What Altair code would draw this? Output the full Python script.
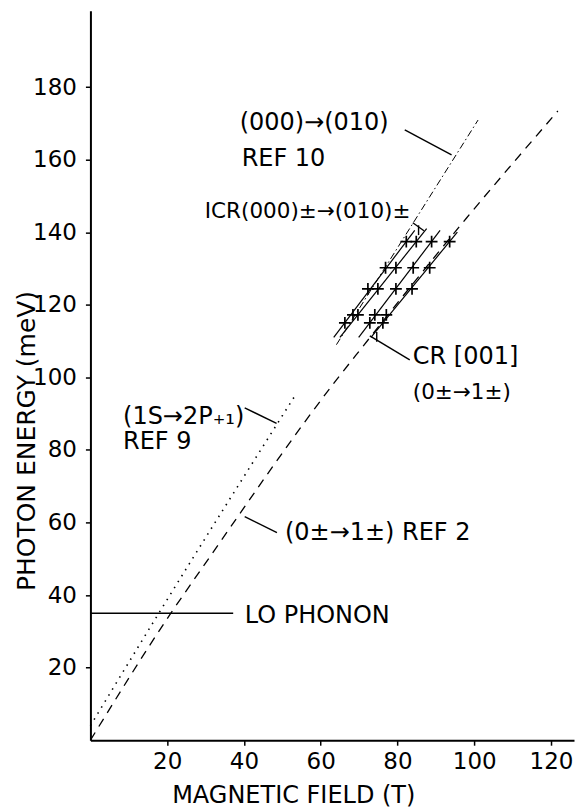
import altair as alt
import pandas as pd

FONT = "DejaVu Sans"
X_MAX = 126
Y_MAX = 201

x_ticks = [20, 40, 60, 80, 100, 120]
y_ticks = [20, 40, 60, 80, 100, 120, 140, 160, 180]

# (0±→1±) REF 2  (dashed)
ref2_B = [0, 20.7, 29.4, 64.1, 70.6, 98.0, 121.8]
ref2_E = [0, 34.6, 47.9, 99.3, 108.0, 143.9, 173.4]

# (1S→2P+1) REF 9  (dotted)
ref9_B = [0, 17.7, 53.7]
ref9_E = [4.0, 34.8, 95.6]

# (000)→(010) REF 10  (dash-dot)
ref10_B = [64.1, 101.0]
ref10_E = [109.0, 170.9]

# LO phonon
lo_B = [0, 37.2]
lo_E = [35, 35]

# CR [001] measured points (four series)
cr_series = ["A"] * 5 + ["B"] * 4 + ["C"] * 5 + ["D"] * 5
cr_B = [66.3, 68.4, 72.3, 76.9, 82.3,
        69.7, 74.9, 79.6, 84.9,
        72.8, 74.1, 79.6, 84.1, 88.9,
        76.2, 77.1, 83.8, 88.4, 93.6]
cr_E = [115.0, 117.2, 124.4, 130.2, 137.4,
        117.2, 124.4, 130.2, 137.4,
        115.0, 117.2, 124.4, 130.2, 137.4,
        115.0, 117.2, 124.4, 130.2, 137.4]

# lines drawn through the CR points
fit_B0 = [63.4, 65.0, 69.9, 73.1]
fit_E0 = [111.0, 111.0, 111.0, 111.0]
fit_B1 = [84.5, 87.6, 91.1, 95.6]
fit_E1 = [140.5, 141.0, 140.5, 140.0]

# annotation texts (larger lettering)
ann_text = ["(000)→(010)", "REF 10", "CR [001]",
            "(1S→2P₊₁)", "REF 9", "(0±→1±) REF 2", "LO PHONON"]
ann_B = [38.9, 39.4, 84.0, 8.5, 8.5, 50.7, 40.2]
ann_E = [170.1, 160.2, 105.5, 89.1, 82.1, 57.2, 34.3]

# annotation texts (smaller lettering)
ann2_text = ["ICR(000)±→(010)±", "(0±→1±)"]
ann2_B = [29.8, 84.0]
ann2_E = [145.5, 95.7]

# leader lines
lead_B0 = [81.9, 84.0, 83.2, 40.2, 40.2, 85.5, 74.6]
lead_E0 = [168.2, 142.6, 104.8, 91.6, 61.6, 141.9, 112.5]
lead_B1 = [94.1, 86.9, 72.8, 48.5, 48.6, 85.5, 74.6]
lead_E1 = [161.3, 140.4, 111.4, 87.3, 57.2, 139.2, 109.8]

XSCALE = alt.Scale(domain=[0, X_MAX], nice=False, zero=False)
YSCALE = alt.Scale(domain=[0, Y_MAX], nice=False, zero=False)

XAXIS = alt.Axis(values=x_ticks, title="MAGNETIC FIELD (T)", grid=False,
                 domainColor="black", domainWidth=2, tickColor="black", tickWidth=1.5,
                 tickSize=5, labelFont=FONT, labelFontSize=23, labelColor="black",
                 labelPadding=5, titleFont=FONT, titleFontSize=24, titleFontWeight="normal",
                 titleColor="black", titleX=203, titleY=62, titleAlign="center",
                 titleBaseline="alphabetic")
YAXIS = alt.Axis(values=y_ticks, title="PHOTON ENERGY (meV)", grid=False,
                 domainColor="black", domainWidth=2, tickColor="black", tickWidth=1.5,
                 tickSize=5, labelFont=FONT, labelFontSize=23, labelColor="black",
                 labelPadding=9, titleFont=FONT, titleFontSize=25, titleFontWeight="normal",
                 titleColor="black", titleX=-64, titleY=430, titleAngle=270,
                 titleAlign="center", titleBaseline="middle")


def X(f):
    return alt.X(f, type="quantitative", scale=XSCALE, axis=XAXIS)


def Y(f):
    return alt.Y(f, type="quantitative", scale=YSCALE, axis=YAXIS)


def curve(bs, es, dash, width=1.3):
    df = pd.DataFrame({"B": bs, "E": es, "o": list(range(len(bs)))})
    return alt.Chart(df).mark_line(color="black", strokeWidth=width, strokeDash=dash,
                                   interpolate="monotone").encode(
        x=X("B"), y=Y("E"), order="o:Q")


ref2 = curve(ref2_B, ref2_E, [9, 7])
ref9 = curve(ref9_B, ref9_E, [1.5, 5.5], 1.6)
ref10 = curve(ref10_B, ref10_E, [7, 3, 1.5, 3], 1.0)
lo = alt.Chart(pd.DataFrame({"B": lo_B, "E": lo_E})).mark_line(
    color="black", strokeWidth=1.4).encode(x=X("B"), y=Y("E"))

fit_df = pd.DataFrame({"B0": fit_B0, "E0": fit_E0, "B1": fit_B1, "E1": fit_E1})
fits = alt.Chart(fit_df).mark_rule(color="black", strokeWidth=1.2).encode(
    x=X("B0"), y=Y("E0"), x2="B1", y2="E1")

lead_df = pd.DataFrame({"B0": lead_B0, "E0": lead_E0, "B1": lead_B1, "E1": lead_E1})
leads = alt.Chart(lead_df).mark_rule(color="black", strokeWidth=1.4).encode(
    x=X("B0"), y=Y("E0"), x2="B1", y2="E1")

cr_df = pd.DataFrame({"B": cr_B, "E": cr_E, "s": cr_series})
crosses = alt.Chart(cr_df).mark_point(
    shape="M-1,0L1,0M0,-1L0,1", filled=False, color="black", strokeWidth=1.7,
    size=140, opacity=1).encode(x=X("B"), y=Y("E"))

ann_df = pd.DataFrame({"t": ann_text, "B": ann_B, "E": ann_E})
labels = alt.Chart(ann_df).mark_text(
    align="left", baseline="middle", font=FONT, fontSize=24, color="black").encode(
    x=X("B"), y=Y("E"), text="t:N")

ann2_df = pd.DataFrame({"t": ann2_text, "B": ann2_B, "E": ann2_E})
labels2 = alt.Chart(ann2_df).mark_text(
    align="left", baseline="middle", font=FONT, fontSize=21.5, color="black").encode(
    x=X("B"), y=Y("E"), text="t:N")

chart = alt.layer(ref2, ref9, ref10, lo, fits, leads, crosses, labels, labels2).properties(
    width=484, height=730,
    autosize=alt.AutoSizeParams(type="none"),
    padding={"left": 90.5, "top": 10.5, "right": 3, "bottom": 67.5},
    background="white",
).configure_view(stroke=None)

chart.save("out.html", embed_options={"renderer": "svg", "actions": False})
